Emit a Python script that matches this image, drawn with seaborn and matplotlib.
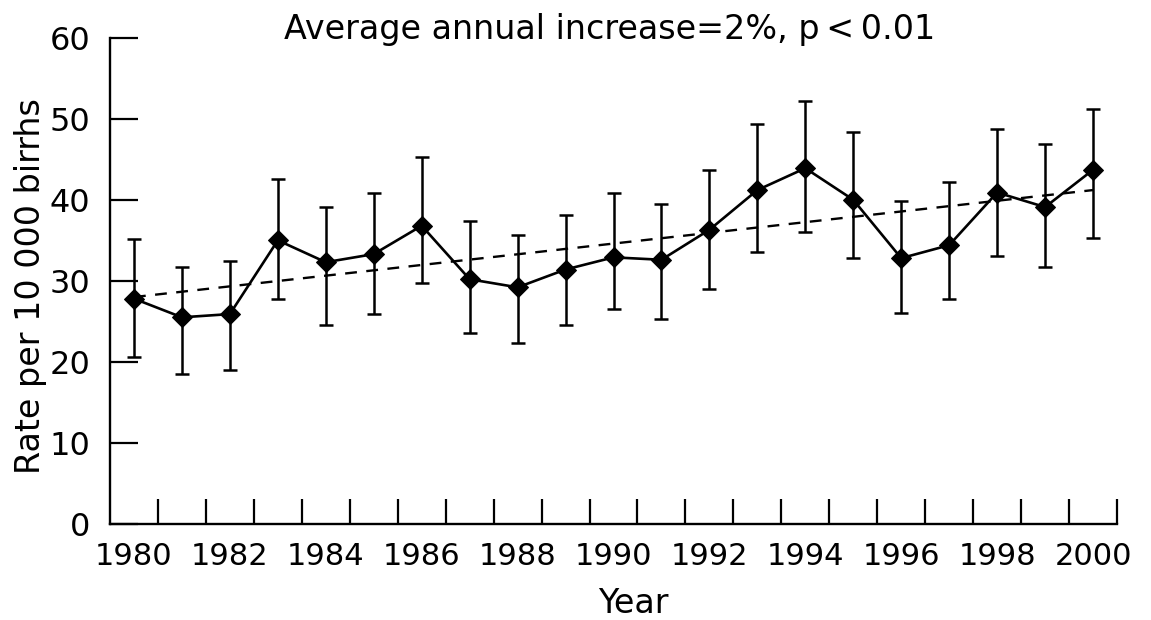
import numpy as np
import matplotlib
matplotlib.use('Agg')
import matplotlib.pyplot as plt
import seaborn as sns
import pandas as pd
from matplotlib.ticker import FixedLocator

# ── data ──
years = list(range(1980, 2001))
rate = [27.8, 25.5, 25.9, 35.0, 32.3, 33.3, 36.8, 30.2, 29.2, 31.4, 32.9,
        32.6, 36.3, 41.2, 43.9, 40.0, 32.8, 34.4, 40.9, 39.1, 43.7]
upper = [35.2, 31.7, 32.4, 42.6, 39.1, 40.9, 45.3, 37.4, 35.7, 38.1, 40.8,
         39.5, 43.7, 49.4, 52.2, 48.4, 39.8, 42.2, 48.7, 46.9, 51.2]
lower = [20.6, 18.5, 19.0, 27.8, 24.5, 25.9, 29.7, 23.6, 22.3, 24.6, 26.5,
         25.3, 29.0, 33.6, 36.0, 32.8, 26.0, 27.8, 33.1, 31.7, 35.3]
trend_years = [1980, 2000]
trend_rate = [28.0, 41.2]
title = 'Average annual increase=2%, p\u2009<\u20090.01'

df = pd.DataFrame({'year': years, 'rate': rate, 'upper': upper, 'lower': lower})
trend = pd.DataFrame({'year': trend_years, 'rate': trend_rate})

sns.set_theme(style="white")
plt.rcParams['font.family'] = ['DejaVu Sans']
FS = 22
FS_BIG = 24

fig = plt.figure(figsize=(11.51, 6.2), dpi=100)
ax = fig.add_axes([110/1151, 1-524/620, 1007/1151, 486.3/620])

sns.lineplot(data=trend, x='year', y='rate', ax=ax, color='black', lw=1.7,
             dashes=False, linestyle=(0, (5, 4)))
ax.errorbar(df['year'], df['rate'],
            yerr=[df['rate'] - df['lower'], df['upper'] - df['rate']],
            fmt='none', ecolor='black', elinewidth=1.8, capsize=5, capthick=1.8)
sns.lineplot(data=df, x='year', y='rate', ax=ax, color='black', lw=1.9,
             marker='D', markersize=10, markeredgecolor='black', markerfacecolor='black')

ax.set_xlim(1979.5, 2000.5)
ax.set_ylim(0, 60)
sns.despine(ax=ax)
for s in ['left', 'bottom']:
    ax.spines[s].set_linewidth(1.7)
    ax.spines[s].set_color('black')

# year bins: ticks at boundaries, labels in the middle
ax.xaxis.set_major_locator(FixedLocator(np.arange(1980.5, 2001, 1)))
ax.xaxis.set_major_formatter(plt.NullFormatter())
ax.xaxis.set_minor_locator(FixedLocator(years[::2]))
ax.set_xticklabels([str(y) for y in years[::2]], minor=True)
ax.tick_params(axis='x', which='both', bottom=True)
ax.tick_params(axis='x', which='major', direction='in', length=18, width=1.6, color='black')
ax.tick_params(axis='x', which='minor', length=0, pad=13, labelsize=FS, labelcolor='black')

ax.set_yticks(range(0, 61, 10))
ax.tick_params(axis='y', left=True, direction='in', length=20, width=1.6, color='black',
               pad=14, labelsize=FS + 1, labelcolor='black')

ax.set_xlabel('Year', fontsize=FS_BIG, color='black')
ax.xaxis.set_label_coords(0.52, -0.13)
ax.set_ylabel('Rate per 10 000 birrhs', fontsize=FS_BIG, color='black')
ax.yaxis.set_label_coords(-0.063, 0.49)

fig.text(610/1151, 1-30/620, title, ha='center', va='center', fontsize=FS_BIG, color='black')

plt.savefig('out.png', dpi=100)
plt.close()
